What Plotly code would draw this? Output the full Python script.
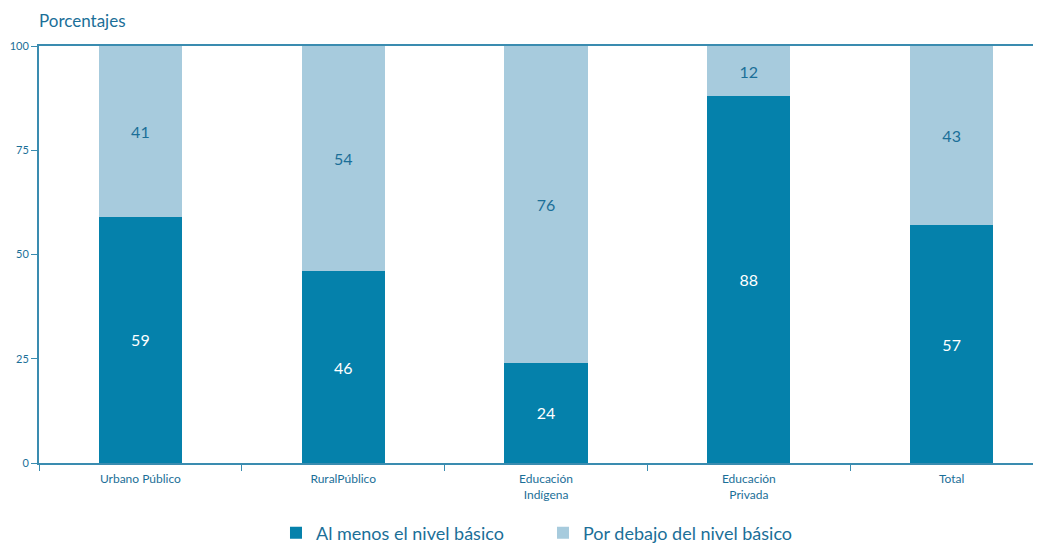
import plotly.graph_objects as go

categories = ["Urbano Público", "RuralPúblico", "Educación<br>Indígena", "Educación<br>Privada", "Total"]
al_menos = [59, 46, 24, 88, 57]
por_debajo = [41, 54, 76, 12, 43]
y_ticks = [0, 25, 50, 75, 100]

DARK = "#0581ab"
LIGHT = "#a7cbdd"
TXT = "#1b6f98"
AX = "#3a8cb0"
FONT = "Lato"

fig = go.Figure()
fig.add_trace(go.Bar(
    x=categories, y=al_menos, name="Al menos el nivel básico",
    marker=dict(color=DARK, line=dict(width=0)),
    text=[str(v) for v in al_menos], textposition="inside", insidetextanchor="middle",
    textangle=0, textfont=dict(color="white", size=16, family=FONT),
))
fig.add_trace(go.Bar(
    x=categories, y=por_debajo, name="Por debajo del nivel básico",
    marker=dict(color=LIGHT, line=dict(width=0)),
    text=[str(v) for v in por_debajo], textposition="inside", insidetextanchor="middle",
    textangle=0, textfont=dict(color=TXT, size=16, family=FONT),
))

fig.update_layout(
    width=1041, height=543,
    barmode="stack", bargap=0.59,
    plot_bgcolor="white", paper_bgcolor="white",
    margin=dict(l=31, r=0, t=38, b=88, autoexpand=False),
    font=dict(family=FONT, color=TXT),
    uniformtext=dict(minsize=16, mode="show"),
    annotations=[dict(text="Porcentajes", xref="paper", yref="paper", x=-0.002, y=1.0,
                      xanchor="left", yanchor="middle", yshift=26, showarrow=False,
                      font=dict(size=17, color=TXT, family=FONT))],
    legend=dict(orientation="h", x=0.499, xanchor="center", y=-0.168, yanchor="middle",
                font=dict(size=18, color=TXT, family=FONT), itemwidth=30,
                entrywidth=222, traceorder="normal"),
    xaxis=dict(range=[-0.5, 4.48], showline=True, linecolor=AX, linewidth=2, mirror=True,
               ticks="outside", tickson="boundaries", ticklen=6, tickcolor=AX, tickwidth=1,
               tickfont=dict(size=12, color=TXT, family=FONT), showgrid=False,
               ticklabelstandoff=4, automargin=False, layer="below traces"),
    yaxis=dict(range=[0, 100], tickvals=y_ticks, showline=True, linecolor=AX, linewidth=2,
               ticks="outside", ticklen=6, tickcolor=AX, tickwidth=1,
               tickfont=dict(size=11, color=TXT, family=FONT), showgrid=False,
               zeroline=False, automargin=False, layer="below traces"),
)

fig.write_html("out.html")
